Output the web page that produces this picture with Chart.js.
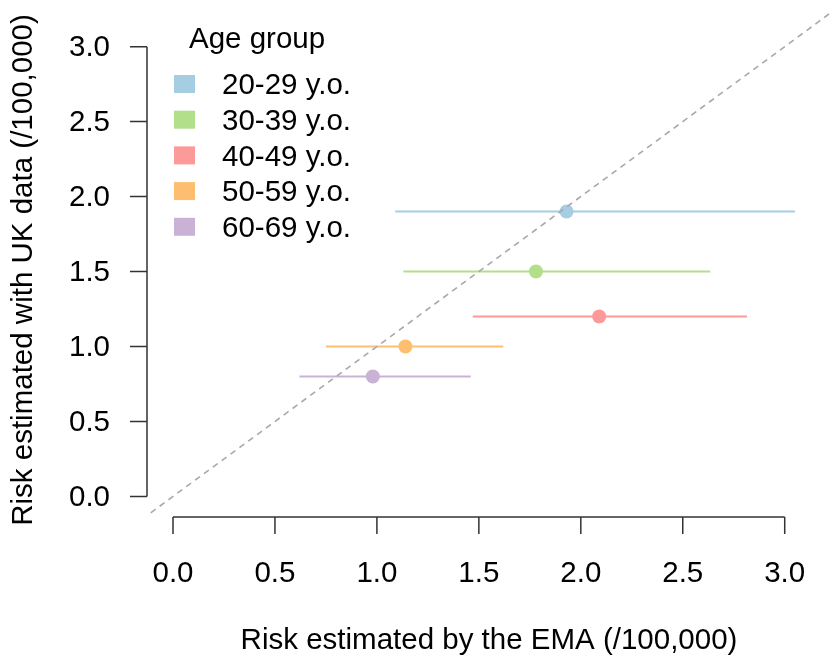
<!DOCTYPE html>
<html lang="en">
<head>
  <meta charset="UTF-8">
  <title>Risk estimated by EMA vs UK data</title>
  <script src="https://cdn.jsdelivr.net/npm/chart.js@4.4.1/dist/chart.umd.min.js"></script>
  <style>
    html, body { margin: 0; padding: 0; background: #fff; }
    #wrap { width: 831px; height: 663px; }
  </style>
</head>
<body>
  <div id="wrap"><canvas id="grafica" width="831" height="663"></canvas></div>

  <script>
    // data
    const ageGroups = ['20-29 y.o.', '30-39 y.o.', '40-49 y.o.', '50-59 y.o.', '60-69 y.o.'];
    const emaRisk  = [1.93, 1.78, 2.09, 1.14, 0.98];
    const emaLower = [1.09, 1.13, 1.47, 0.75, 0.62];
    const emaUpper = [3.05, 2.635, 2.815, 1.62, 1.46];
    const ukRisk   = [1.9, 1.5, 1.2, 1.0, 0.8];
    const colores  = ['#A6CEE3', '#B2DF8A', '#FB9A99', '#FDBF6F', '#CAB2D6'];
    const xTicks = [0, 0.5, 1, 1.5, 2, 2.5, 3];
    const yTicks = [0, 0.5, 1, 1.5, 2, 2.5, 3];

    const FONT = '"Liberation Sans", Arial, sans-serif';

    const datasets = [];
    // linea de referencia y = x
    datasets.push({
      data: [{x: -0.5, y: -0.5}, {x: 3.5, y: 3.5}],
      showLine: true, borderColor: '#a8a8a8', borderWidth: 1.6,
      borderDash: [6, 5], pointRadius: 0
    });
    // barras de error (intervalo EMA)
    ageGroups.forEach((g, i) => {
      datasets.push({
        data: [{x: emaLower[i], y: ukRisk[i]}, {x: emaUpper[i], y: ukRisk[i]}],
        showLine: true, borderColor: colores[i], borderWidth: 2, pointRadius: 0
      });
    });
    // puntos
    ageGroups.forEach((g, i) => {
      datasets.push({
        label: g,
        data: [{x: emaRisk[i], y: ukRisk[i]}],
        backgroundColor: colores[i], borderColor: colores[i],
        pointRadius: 7, pointBorderWidth: 0
      });
    });

    // ejes estilo R, titulos y leyenda
    const ejesR = {
      id: 'ejesR',
      afterDraw(chart) {
        const c = chart.ctx;
        const xs = chart.scales.x, ys = chart.scales.y;
        const area = chart.chartArea;
        c.save();
        c.strokeStyle = '#333';
        c.lineWidth = 1.5;
        c.fillStyle = '#000';
        c.font = '29.5px ' + FONT;

        // eje x
        const yAxis = area.bottom;
        c.beginPath();
        c.moveTo(xs.getPixelForValue(xTicks[0]), yAxis);
        c.lineTo(xs.getPixelForValue(xTicks[xTicks.length - 1]), yAxis);
        xTicks.forEach(t => {
          const px = xs.getPixelForValue(t);
          c.moveTo(px, yAxis);
          c.lineTo(px, yAxis + 17);
        });
        c.stroke();
        c.textAlign = 'center';
        c.textBaseline = 'middle';
        xTicks.forEach(t => c.fillText(t.toFixed(1), xs.getPixelForValue(t), 574));

        // eje y
        const xAxis = area.left;
        c.beginPath();
        c.moveTo(xAxis, ys.getPixelForValue(yTicks[0]));
        c.lineTo(xAxis, ys.getPixelForValue(yTicks[yTicks.length - 1]));
        yTicks.forEach(t => {
          const py = ys.getPixelForValue(t);
          c.moveTo(xAxis, py);
          c.lineTo(xAxis - 17, py);
        });
        c.stroke();
        c.textAlign = 'right';
        yTicks.forEach(t => c.fillText(t.toFixed(1), 110, ys.getPixelForValue(t) + 1));

        // titulos de los ejes
        c.textAlign = 'center';
        c.fillText('Risk estimated by the EMA (/100,000)', 489, 641);
        c.save();
        c.translate(24, 270);
        c.rotate(-Math.PI / 2);
        c.fillText('Risk estimated with UK data (/100,000)', 0, 0);
        c.restore();

        // leyenda
        c.textAlign = 'left';
        c.fillText('Age group', 189, 40);
        ageGroups.forEach((g, i) => {
          const cy = 84 + i * 35.7;
          c.fillStyle = colores[i];
          c.fillRect(174, cy - 9, 21, 18);
          c.fillStyle = '#000';
          c.fillText(g, 222, cy + 2);
        });
        c.restore();
      }
    };

    new Chart(document.getElementById('grafica'), {
      type: 'scatter',
      data: { datasets: datasets },
      options: {
        responsive: false,
        animation: false,
        layout: { autoPadding: false, padding: { left: 147, right: 0, top: 0, bottom: 146 } },
        plugins: { legend: { display: false }, tooltip: { enabled: false } },
        scales: {
          x: { type: 'linear', min: -0.1275, max: 3.227, display: false },
          y: { type: 'linear', min: -0.137, max: 3.311, display: false }
        }
      },
      plugins: [ejesR]
    });
  </script>
</body>
</html>
